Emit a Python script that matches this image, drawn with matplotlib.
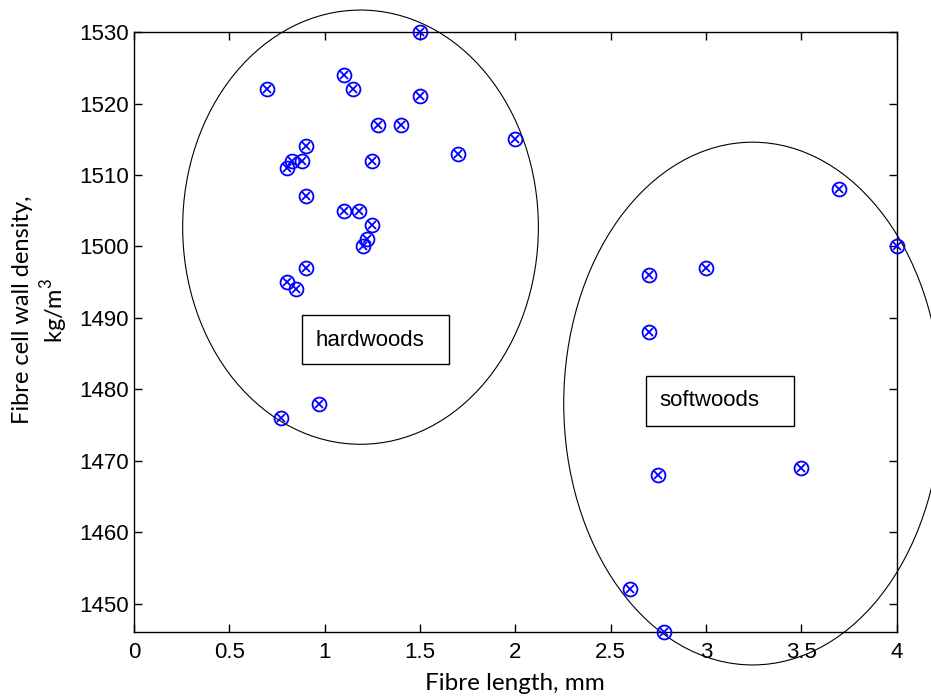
import matplotlib
matplotlib.use("Agg")
import matplotlib.pyplot as plt
from matplotlib.patches import Ellipse, Rectangle

# fibre length (mm) and fibre cell wall density (kg/m3)
hard_length = [0.7, 1.1, 1.15, 1.5, 1.5, 1.28, 1.4, 2.0, 1.7, 0.9, 0.83, 0.88, 0.8,
               1.25, 0.9, 1.1, 1.18, 1.25, 1.22, 1.2, 0.9, 0.8, 0.85, 0.77, 0.97]
hard_density = [1522, 1524, 1522, 1530, 1521, 1517, 1517, 1515, 1513, 1514, 1512, 1512, 1511,
                1512, 1507, 1505, 1505, 1503, 1501, 1500, 1497, 1495, 1494, 1476, 1478]
soft_length = [3.7, 4.0, 2.7, 3.0, 2.7, 2.75, 3.5, 2.6, 2.78]
soft_density = [1508, 1500, 1496, 1497, 1488, 1468, 1469, 1452, 1446]

x_ticks = [0, 0.5, 1, 1.5, 2, 2.5, 3, 3.5, 4]
x_tick_labels = ["0", "0.5", "1", "1.5", "2", "2.5", "3", "3.5", "4"]
y_ticks = [1450, 1460, 1470, 1480, 1490, 1500, 1510, 1520, 1530]

plt.rcParams["font.family"] = "Liberation Sans"
plt.rcParams["mathtext.fontset"] = "custom"
plt.rcParams["mathtext.rm"] = "Lato"

fig = plt.figure(figsize=(9.31, 7), dpi=100)
ax = fig.add_axes([0.144, 0.097, 0.819, 0.857])

all_x = hard_length + soft_length
all_y = hard_density + soft_density
ax.plot(all_x, all_y, "o", markersize=10, markerfacecolor="none", markeredgecolor="blue",
        markeredgewidth=1.3, clip_on=False, zorder=3)
ax.plot(all_x, all_y, "x", markersize=6, color="blue", markeredgewidth=1.3, clip_on=False, zorder=3)

# group outlines
ax.add_patch(Ellipse((1.188, 1502.7), 1.866, 60.8, fill=False, edgecolor="black", linewidth=0.8, clip_on=False))
ax.add_patch(Ellipse((3.245, 1478.0), 1.982, 73.2, fill=False, edgecolor="black", linewidth=0.8, clip_on=False))

# labels in boxes
ax.add_patch(Rectangle((0.879, 1483.5), 0.773, 6.9, fill=False, edgecolor="black", linewidth=1.0))
ax.text(0.954, 1486.9, "hardwoods", fontsize=16, va="center", ha="left")
ax.add_patch(Rectangle((2.687, 1474.9), 0.774, 7.0, fill=False, edgecolor="black", linewidth=1.0))
ax.text(2.753, 1478.4, "softwoods", fontsize=16, va="center", ha="left")

ax.set_xlim(0, 4)
ax.set_ylim(1446, 1530)
ax.set_xticks(x_ticks)
ax.set_xticklabels(x_tick_labels)
ax.set_yticks(y_ticks)
ax.tick_params(direction="in", length=6, width=1, labelsize=16, top=True, right=True)
ax.tick_params(axis="x", pad=7)
ax.tick_params(axis="y", pad=4)
for s in ax.spines.values():
    s.set_linewidth(1.0)

ax.set_xlabel("Fibre length, mm", fontsize=17.5, family="Lato", labelpad=7)
ax.set_ylabel("Fibre cell wall density,\nkg/m$^3$", fontsize=17, family="Lato",
              linespacing=1.2)
ax.yaxis.set_label_coords(-0.084, 0.537)

fig.savefig("out.png", dpi=100)
